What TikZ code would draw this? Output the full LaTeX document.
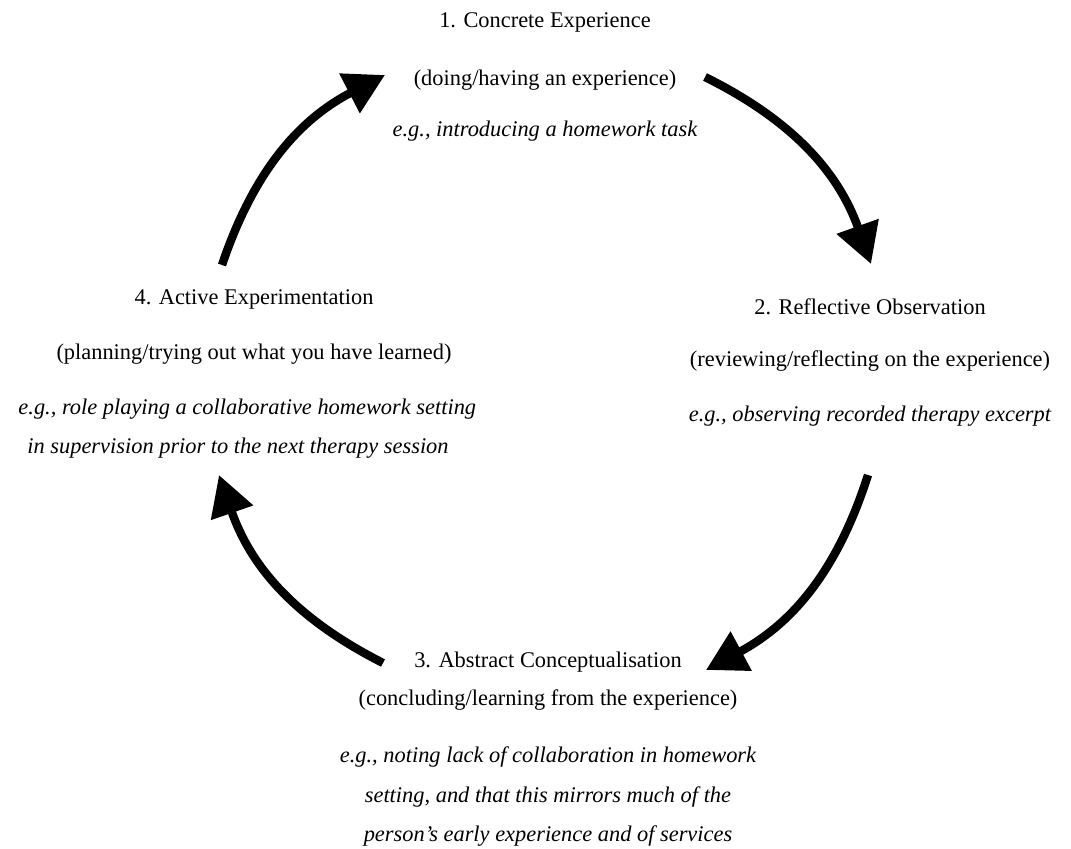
\documentclass[tikz,border=0pt]{standalone}
\usepackage{fontspec}
\setmainfont{Liberation Serif}
\usetikzlibrary{positioning}
\usetikzlibrary{arrows.meta}

\begin{document}
\begin{tikzpicture}[x=0.75pt, y=-0.75pt, on grid,
    font=\fontsize{16.8}{19}\selectfont,
    eg/.style={font=\fontsize{16.8}{19}\selectfont\itshape},
    cyc/.style={line width=6.3pt, -{Triangle[length=30pt, width=32pt]}}]
    \useasboundingbox (0,0) rectangle (1071,849);

    % 1. concrete experience
    \node (ce) at (545,22) {1. Concrete Experience};
    \node [below=43.5pt of ce] (ce2) {(doing/having an experience)};
    \node [eg, below=38.25pt of ce2] (ce3) {e.g., introducing a homework task};

    % 2. reflective observation
    \node (ro) at (870,307) {2. Reflective Observation};
    \node [below=40.5pt of ro] (ro2) {(reviewing/reflecting on the experience)};
    \node [eg, below=41.25pt of ro2] (ro3) {e.g., observing recorded therapy excerpt};

    % 3. abstract conceptualisation
    \node (ac) at (548,662) {3. Abstract Conceptualisation};
    \node [below=28.5pt of ac] (ac2) {(concluding/learning from the experience)};
    \node [eg, below=42.75pt of ac2] (ac3) {e.g., noting lack of collaboration in homework};
    \node [eg, below=30pt of ac3] (ac4) {setting, and that this mirrors much of the};
    \node [eg, below=29.25pt of ac4] (ac5) {person’s early experience and of services};

    % 4. active experimentation
    \node (ae) at (254,299) {4. Active Experimentation};
    \node [below=41.25pt of ae] (ae2) {(planning/trying out what you have learned)};
    \node [eg, below=41.25pt of ae2, xshift=-5pt] (ae3) {e.g., role playing a collaborative homework setting};
    \node [eg, below=29.25pt of ae3, xshift=-7pt] (ae4) {in supervision prior to the next therapy session};

    % arrow ends
    \coordinate (p1) at (222,265);
    \coordinate (q1) at (385,75);
    \coordinate (p2) at (705,77);
    \coordinate (q2) at (871,264);
    \coordinate (p3) at (868,475);
    \coordinate (q3) at (706,670);
    \coordinate (p4) at (383,663);
    \coordinate (q4) at (219,475);

    \draw [cyc] (p1) to[bend left=22] (q1);
    \draw [cyc] (p2) to[bend left=22] (q2);
    \draw [cyc] (p3) to[bend left=22] (q3);
    \draw [cyc] (p4) to[bend left=22] (q4);
\end{tikzpicture}
\end{document}
